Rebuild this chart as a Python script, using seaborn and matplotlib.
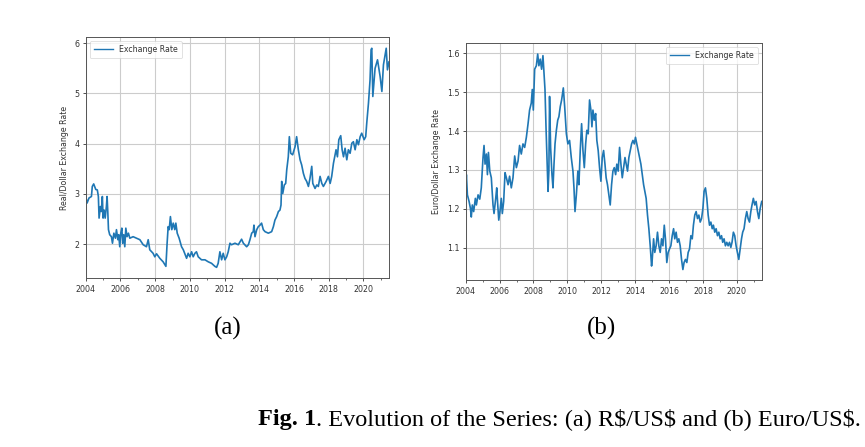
import numpy as np
import pandas as pd
import matplotlib
matplotlib.use("Agg")
import matplotlib.pyplot as plt
import matplotlib.dates as mdates
import seaborn as sns

# ---------------- data ----------------
# (a) Real / US dollar exchange rate, decimal years
brl_years = [
    2004.00, 2004.08, 2004.19, 2004.33, 2004.38, 2004.46, 2004.58, 2004.67, 2004.73, 2004.77,
    2004.85, 2004.90, 2004.96, 2005.00, 2005.06, 2005.12, 2005.19, 2005.23, 2005.27, 2005.31,
    2005.38, 2005.48, 2005.54, 2005.62, 2005.71, 2005.77, 2005.85, 2005.90, 2005.96, 2006.02,
    2006.08, 2006.13, 2006.19, 2006.25, 2006.31, 2006.38, 2006.46, 2006.54, 2006.73, 2006.92,
    2007.12, 2007.31, 2007.50, 2007.60, 2007.69, 2007.88, 2007.98, 2008.08, 2008.27, 2008.46,
    2008.62, 2008.69, 2008.75, 2008.81, 2008.88, 2008.96, 2009.04, 2009.13, 2009.19, 2009.27,
    2009.38, 2009.52, 2009.62, 2009.81, 2009.90, 2010.00, 2010.10, 2010.19, 2010.29, 2010.38,
    2010.48, 2010.67, 2010.87, 2011.06, 2011.25, 2011.44, 2011.54, 2011.63, 2011.73, 2011.83,
    2011.92, 2012.02, 2012.12, 2012.21, 2012.31, 2012.40, 2012.60, 2012.79, 2012.98, 2013.08,
    2013.27, 2013.37, 2013.46, 2013.56, 2013.65, 2013.69, 2013.75, 2013.85, 2013.94, 2014.04,
    2014.13, 2014.23, 2014.33, 2014.52, 2014.71, 2014.81, 2014.90, 2015.00, 2015.10, 2015.19,
    2015.25, 2015.29, 2015.35, 2015.44, 2015.52, 2015.58, 2015.67, 2015.73, 2015.81, 2015.92,
    2016.06, 2016.15, 2016.25, 2016.35, 2016.44, 2016.54, 2016.63, 2016.73, 2016.83, 2016.92,
    2017.02, 2017.08, 2017.21, 2017.31, 2017.40, 2017.50, 2017.60, 2017.69, 2017.85, 2017.98,
    2018.08, 2018.17, 2018.27, 2018.42, 2018.50, 2018.58, 2018.69, 2018.77, 2018.85, 2018.94,
    2019.04, 2019.13, 2019.23, 2019.33, 2019.42, 2019.52, 2019.62, 2019.71, 2019.81, 2019.90,
    2020.04, 2020.13, 2020.19, 2020.29, 2020.38, 2020.44, 2020.48, 2020.54, 2020.67, 2020.81,
    2020.96, 2021.06, 2021.15, 2021.31, 2021.38, 2021.47,
]
brl_rate = [
    2.95, 2.82, 2.92, 2.95, 3.15, 3.20, 3.09, 3.08, 2.95, 2.52,
    2.75, 2.65, 2.95, 2.52, 2.68, 2.52, 2.75, 2.95, 2.65, 2.29,
    2.19, 2.15, 2.02, 2.22, 2.12, 2.29, 2.09, 2.19, 1.95, 2.22,
    2.32, 2.02, 2.19, 1.95, 2.32, 2.15, 2.22, 2.12, 2.15, 2.12,
    2.09, 1.99, 1.95, 2.09, 1.89, 1.82, 1.75, 1.81, 1.72, 1.65,
    1.56, 2.02, 2.35, 2.29, 2.55, 2.29, 2.42, 2.29, 2.42, 2.22,
    2.12, 1.95, 1.89, 1.72, 1.82, 1.75, 1.85, 1.75, 1.82, 1.85,
    1.75, 1.69, 1.69, 1.65, 1.62, 1.56, 1.54, 1.62, 1.85, 1.69,
    1.82, 1.69, 1.75, 1.85, 2.02, 1.99, 2.02, 1.99, 2.10, 2.02,
    1.95, 1.99, 2.09, 2.22, 2.25, 2.38, 2.15, 2.29, 2.35, 2.38,
    2.42, 2.29, 2.25, 2.22, 2.25, 2.35, 2.48, 2.55, 2.65, 2.68,
    2.78, 3.25, 3.01, 3.18, 3.21, 3.48, 3.74, 4.14, 3.81, 3.78,
    3.94, 4.14, 3.88, 3.68, 3.58, 3.41, 3.31, 3.25, 3.15, 3.31,
    3.55, 3.21, 3.11, 3.18, 3.15, 3.35, 3.21, 3.15, 3.25, 3.35,
    3.21, 3.35, 3.61, 3.88, 3.74, 4.08, 4.16, 3.88, 3.74, 3.91,
    3.68, 3.88, 3.81, 4.01, 4.04, 3.88, 4.08, 3.98, 4.14, 4.21,
    4.08, 4.14, 4.41, 4.81, 5.27, 5.87, 5.90, 4.94, 5.50, 5.67,
    5.34, 5.04, 5.57, 5.90, 5.47, 5.63,
]

# (b) Euro / US dollar exchange rate, decimal years
eur_years = [
    2004.00, 2004.04, 2004.10, 2004.20, 2004.28, 2004.33, 2004.39, 2004.47, 2004.57, 2004.63,
    2004.73, 2004.83, 2004.92, 2005.02, 2005.08, 2005.14, 2005.22, 2005.28, 2005.34, 2005.42,
    2005.51, 2005.61, 2005.67, 2005.77, 2005.83, 2005.89, 2005.95, 2006.02, 2006.10, 2006.16,
    2006.24, 2006.32, 2006.40, 2006.50, 2006.59, 2006.69, 2006.79, 2006.89, 2006.99, 2007.09,
    2007.18, 2007.28, 2007.38, 2007.48, 2007.58, 2007.68, 2007.77, 2007.87, 2007.93, 2007.99,
    2008.07, 2008.17, 2008.25, 2008.32, 2008.40, 2008.48, 2008.56, 2008.62, 2008.68, 2008.74,
    2008.80, 2008.86, 2008.91, 2008.95, 2009.01, 2009.09, 2009.15, 2009.21, 2009.27, 2009.35,
    2009.43, 2009.50, 2009.58, 2009.66, 2009.76, 2009.84, 2009.94, 2010.03, 2010.13, 2010.23,
    2010.33, 2010.39, 2010.45, 2010.53, 2010.62, 2010.68, 2010.76, 2010.84, 2010.92, 2011.00,
    2011.08, 2011.15, 2011.23, 2011.31, 2011.39, 2011.45, 2011.51, 2011.59, 2011.67, 2011.74,
    2011.82, 2011.90, 2011.98, 2012.06, 2012.14, 2012.22, 2012.29, 2012.37, 2012.45, 2012.53,
    2012.61, 2012.69, 2012.77, 2012.85, 2012.92, 2013.00, 2013.08, 2013.16, 2013.24, 2013.32,
    2013.40, 2013.47, 2013.55, 2013.63, 2013.71, 2013.79, 2013.87, 2013.95, 2014.02, 2014.10,
    2014.18, 2014.26, 2014.34, 2014.42, 2014.50, 2014.57, 2014.65, 2014.73, 2014.81, 2014.89,
    2014.97, 2015.01, 2015.09, 2015.16, 2015.24, 2015.32, 2015.40, 2015.48, 2015.56, 2015.64,
    2015.72, 2015.79, 2015.87, 2015.95, 2016.03, 2016.11, 2016.19, 2016.27, 2016.34, 2016.42,
    2016.50, 2016.58, 2016.66, 2016.74, 2016.82, 2016.89, 2016.97, 2017.05, 2017.13, 2017.21,
    2017.29, 2017.37, 2017.44, 2017.52, 2017.60, 2017.68, 2017.76, 2017.84, 2017.92, 2018.00,
    2018.07, 2018.15, 2018.23, 2018.31, 2018.39, 2018.47, 2018.55, 2018.62, 2018.70, 2018.78,
    2018.86, 2018.94, 2019.02, 2019.10, 2019.17, 2019.25, 2019.33, 2019.41, 2019.49, 2019.57,
    2019.65, 2019.72, 2019.80, 2019.88, 2019.96, 2020.04, 2020.12, 2020.20, 2020.28, 2020.35,
    2020.43, 2020.51, 2020.59, 2020.67, 2020.75, 2020.83, 2020.90, 2020.98, 2021.06, 2021.14,
    2021.22, 2021.30, 2021.38, 2021.47,
]
eur_rate = [
    1.254, 1.288, 1.236, 1.219, 1.201, 1.179, 1.210, 1.193, 1.227, 1.210,
    1.236, 1.225, 1.254, 1.332, 1.363, 1.315, 1.341, 1.288, 1.345, 1.297,
    1.280, 1.210, 1.188, 1.227, 1.254, 1.210, 1.171, 1.193, 1.227, 1.188,
    1.219, 1.293, 1.280, 1.262, 1.284, 1.254, 1.280, 1.336, 1.306, 1.323,
    1.363, 1.341, 1.367, 1.358, 1.384, 1.419, 1.454, 1.472, 1.507, 1.454,
    1.559, 1.568, 1.598, 1.568, 1.585, 1.559, 1.594, 1.550, 1.507, 1.411,
    1.332, 1.245, 1.297, 1.489, 1.358, 1.288, 1.254, 1.315, 1.367, 1.402,
    1.428, 1.437, 1.463, 1.480, 1.511, 1.463, 1.393, 1.367, 1.376, 1.332,
    1.297, 1.254, 1.193, 1.236, 1.297, 1.262, 1.350, 1.419, 1.350, 1.306,
    1.367, 1.402, 1.393, 1.480, 1.454, 1.411, 1.454, 1.428, 1.445, 1.376,
    1.350, 1.306, 1.271, 1.332, 1.350, 1.315, 1.280, 1.262, 1.236, 1.210,
    1.262, 1.297, 1.306, 1.288, 1.315, 1.297, 1.358, 1.315, 1.280, 1.306,
    1.332, 1.315, 1.297, 1.332, 1.350, 1.367, 1.376, 1.367, 1.384, 1.367,
    1.350, 1.332, 1.315, 1.288, 1.262, 1.245, 1.227, 1.184, 1.149, 1.105,
    1.053, 1.070, 1.123, 1.088, 1.105, 1.140, 1.105, 1.088, 1.123, 1.105,
    1.158, 1.123, 1.062, 1.088, 1.097, 1.105, 1.131, 1.149, 1.123, 1.140,
    1.114, 1.123, 1.105, 1.070, 1.044, 1.062, 1.070, 1.062, 1.088, 1.097,
    1.131, 1.123, 1.158, 1.184, 1.193, 1.175, 1.184, 1.166, 1.175, 1.201,
    1.245, 1.254, 1.227, 1.184, 1.158, 1.166, 1.149, 1.158, 1.140, 1.149,
    1.131, 1.140, 1.123, 1.131, 1.114, 1.123, 1.105, 1.114, 1.105, 1.114,
    1.101, 1.114, 1.140, 1.131, 1.105, 1.088, 1.070, 1.097, 1.123, 1.140,
    1.149, 1.175, 1.193, 1.175, 1.166, 1.193, 1.210, 1.227, 1.210, 1.219,
    1.193, 1.175, 1.201, 1.219,
]

x_tick_years = [2004, 2006, 2008, 2010, 2012, 2014, 2016, 2018, 2020]
brl_yticks = [2, 3, 4, 5, 6]
eur_yticks = [1.1, 1.2, 1.3, 1.4, 1.5, 1.6]

legend_label = "Exchange Rate"
brl_ylabel = "Real/Dollar Exchange Rate"
eur_ylabel = "Euro/Dollar Exchange Rate"
sub_a = "(a)"
sub_b = "(b)"
caption_bold = "Fig. 1"
caption_rest = ". Evolution of the Series: (a) R$/US$ and (b) Euro/US$."


def to_dates(dec_years):
    out = []
    for y in dec_years:
        yi = int(np.floor(y))
        out.append(pd.Timestamp(year=yi, month=1, day=1) + pd.Timedelta(days=(y - yi) * 365.25))
    return out


df_a = pd.DataFrame({"date": to_dates(brl_years), "rate": brl_rate})
df_b = pd.DataFrame({"date": to_dates(eur_years), "rate": eur_rate})

# ---------------- figure ----------------
plt.rcParams["font.family"] = ["DejaVu Sans"]
W, H = 865, 447
fig = plt.figure(figsize=(W / 100, H / 100), dpi=100)
fig.patch.set_facecolor("white")

ax_a = fig.add_axes([85.7 / W, 1 - 278.3 / H, (389 - 85.7) / W, (278.3 - 37.3) / H])
ax_b = fig.add_axes([465.7 / W, 1 - 280.3 / H, (761.7 - 465.7) / W, (280.3 - 43.3) / H])

FS = 5.7
TXT = "#333333"
for ax, df, ylab, yt, loc in [
    (ax_a, df_a, brl_ylabel, brl_yticks, "upper left"),
    (ax_b, df_b, eur_ylabel, eur_yticks, "upper right"),
]:
    sns.lineplot(data=df, x="date", y="rate", ax=ax, color="#1f77b4",
                 linewidth=1.2, label=legend_label, estimator=None)
    ax.set_xlim(df["date"].iloc[0], df["date"].iloc[-1])
    ax.set_xticks([pd.Timestamp(year=y, month=1, day=1) for y in x_tick_years])
    ax.xaxis.set_major_formatter(mdates.DateFormatter("%Y"))
    ax.xaxis.set_minor_locator(mdates.YearLocator(1))
    ax.set_yticks(yt)
    ax.set_yticklabels([("%g" % v) for v in yt])
    ax.set_xlabel("")
    ax.set_ylabel(ylab, fontsize=FS, color=TXT, labelpad=4)
    ax.tick_params(axis="both", which="major", labelsize=FS, colors=TXT,
                   length=2.5, width=0.6, pad=2)
    ax.tick_params(axis="x", which="minor", length=1.5, width=0.5, colors=TXT)
    ax.grid(True, which="major", color="#cccccc", linewidth=0.8)
    for s in ax.spines.values():
        s.set_color("#555555")
        s.set_linewidth(0.7)
    leg = ax.legend(loc=loc, fontsize=FS, frameon=True, handlelength=2.4,
                    borderpad=0.5, framealpha=0.8)
    leg.get_frame().set_linewidth(0.5)
    for line in leg.get_lines():
        line.set_linewidth(1.0)
    for t in leg.get_texts():
        t.set_color(TXT)

serif = ["Liberation Serif", "DejaVu Serif"]
fig.text(228 / W, 1 - 328 / H, sub_a, ha="center", va="center",
         fontsize=18, family=serif)
fig.text(601 / W, 1 - 328 / H, sub_b, ha="center", va="center",
         fontsize=18, family=serif)

t1 = fig.text(258 / W, 1 - 425 / H, caption_bold, ha="left", va="baseline",
              fontsize=17.5, family=serif, fontweight="bold")
fig.canvas.draw()
bb = t1.get_window_extent(renderer=fig.canvas.get_renderer())
fig.text(bb.x1 / W, 1 - 425 / H, caption_rest, ha="left", va="baseline",
         fontsize=17.5, family=serif)

fig.savefig("out.png", dpi=100, facecolor="white")
